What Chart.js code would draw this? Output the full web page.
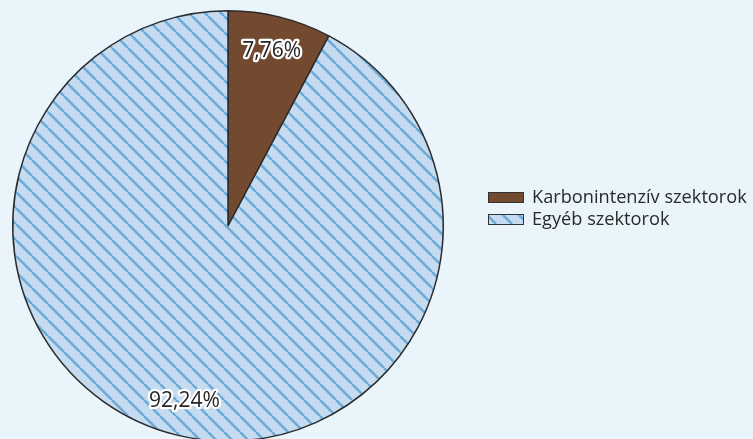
<!DOCTYPE html>
<html>
<head>
<meta charset="utf-8">
<script src="https://cdn.jsdelivr.net/npm/chart.js@4/dist/chart.umd.min.js"></script>
<style>
  html, body { margin: 0; padding: 0; background: #EAF4FB; overflow: hidden; }
  #wrap { position: relative; width: 753px; height: 439px; overflow: hidden; }
  #box { position: absolute; left: 0; top: 0; width: 753px; height: 452px; }
</style>
</head>
<body>
<div id="wrap"><div id="box"><canvas id="c"></canvas></div></div>
<script>
// Sector shares (percent)
const categories = ['Karbonintenzív szektorok', 'Egyéb szektorok'];
const shares = [7.76, 92.24];
const shareLabels = ['7,76%', '92,24%'];

const BROWN = '#734A30';
const HATCH_BG = '#C4DBF0';
const HATCH_LINE = '#6CAAD8';

// Diagonal hatch pattern for the "other" slice
function makeHatch(ctx) {
  const s = 16;
  const t = document.createElement('canvas');
  t.width = s; t.height = s;
  const g = t.getContext('2d');
  g.fillStyle = HATCH_BG;
  g.fillRect(0, 0, s, s);
  g.strokeStyle = HATCH_LINE;
  g.lineWidth = 2.5;
  g.beginPath();
  for (let k = -1; k <= 1; k++) {
    g.moveTo(k * s, 0);
    g.lineTo(k * s + s, s);
  }
  g.stroke();
  return ctx.createPattern(t, 'repeat');
}

const canvas = document.getElementById('c');
const ctx = canvas.getContext('2d');
const hatch = makeHatch(ctx);

// Percent labels with a white halo, placed along each slice's mid angle
const sliceLabels = {
  id: 'sliceLabels',
  afterDatasetsDraw(chart) {
    const c = chart.ctx;
    const meta = chart.getDatasetMeta(0);
    c.save();
    c.font = '21px "Open Sans", sans-serif';
    c.textAlign = 'center';
    c.textBaseline = 'middle';
    c.lineJoin = 'round';
    meta.data.forEach((arc, i) => {
      const p = arc.getProps(['x', 'y', 'startAngle', 'endAngle', 'outerRadius'], true);
      const mid = (p.startAngle + p.endAngle) / 2;
      const r = p.outerRadius * 0.84;
      const x = p.x + Math.cos(mid) * r;
      const y = p.y + Math.sin(mid) * r;
      c.strokeStyle = '#FFFFFF';
      c.lineWidth = 4.5;
      c.strokeText(shareLabels[i], x, y);
      c.fillStyle = '#262626';
      c.fillText(shareLabels[i], x, y);
    });
    c.restore();
  }
};

// Legend drawn on the canvas so the hatch swatch uses the same pattern
const sideLegend = {
  id: 'sideLegend',
  afterDraw(chart) {
    const c = chart.ctx;
    const fills = [BROWN, hatch];
    const x0 = 488, y0 = 192, rowH = 22, bw = 36, bh = 11;
    c.save();
    c.font = '18.2px "Open Sans", sans-serif';
    c.textBaseline = 'middle';
    categories.forEach((name, i) => {
      const y = y0 + i * rowH;
      c.fillStyle = fills[i];
      c.fillRect(x0, y, bw, bh);
      c.strokeStyle = '#333333';
      c.lineWidth = 1;
      c.strokeRect(x0 + 0.5, y + 0.5, bw - 1, bh - 1);
      c.fillStyle = '#2A2A2A';
      c.fillText(name, 532, y + bh / 2);
    });
    c.restore();
  }
};

new Chart(canvas, {
  type: 'pie',
  data: {
    labels: categories,
    datasets: [{
      data: shares,
      backgroundColor: [BROWN, hatch],
      borderColor: '#2B2B2B',
      borderWidth: 1.5
    }]
  },
  options: {
    responsive: true,
    maintainAspectRatio: false,
    animation: false,
    layout: { padding: { left: 12, right: 309, top: 10, bottom: 10 } },
    plugins: {
      legend: { display: false },
      tooltip: { enabled: false }
    }
  },
  plugins: [sliceLabels, sideLegend]
});
</script>
</body>
</html>
